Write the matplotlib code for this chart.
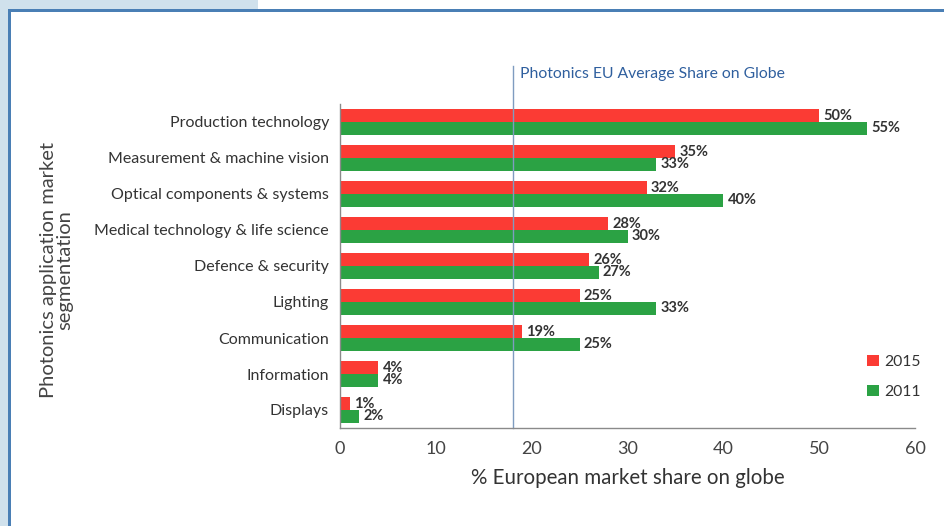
import matplotlib.pyplot as plt
import numpy as np
from matplotlib.patches import Rectangle

plt.rcParams['font.family'] = ['Lato', 'DejaVu Sans']

### --->>> DADOS
categorias = ['Production technology', 'Measurement & machine vision',
              'Optical components & systems', 'Medical technology & life science',
              'Defence & security', 'Lighting', 'Communication', 'Information', 'Displays']
share_2015 = [50, 35, 32, 28, 26, 25, 19, 4, 1]
share_2011 = [55, 33, 40, 30, 27, 33, 25, 4, 2]
media_eu = 18
xticks = [0, 10, 20, 30, 40, 50, 60]

red = '#fb3b34'
green = '#2ba244'
W, H = 944, 526

fig = plt.figure(figsize=(W / 100, H / 100), dpi=100)

# moldura azul
fig.add_artist(Rectangle((0, 0), 8 / W, 1, transform=fig.transFigure, color='#d0e1ec', lw=0))
fig.add_artist(Rectangle((0, 1 - 9 / H), 258 / W, 9 / H, transform=fig.transFigure, color='#d0e1ec', lw=0))
fig.add_artist(Rectangle((8 / W, 0), 2.5 / W, 1 - 9 / H, transform=fig.transFigure, color='#4a7fb5', lw=0))
fig.add_artist(Rectangle((8 / W, 1 - 11.5 / H), 1 - 8 / W, 2.5 / H, transform=fig.transFigure, color='#4a7fb5', lw=0))

ax = fig.add_axes([340 / W, 98 / H, 575 / W, 324 / H])

y = np.arange(len(categorias))[::-1]
h = 0.35
r1 = ax.barh(y + 0.18, share_2015, h, color=red, label='2015')
r2 = ax.barh(y - 0.18, share_2011, h, color=green, label='2011')

for rects in (r1, r2):
    for rect in rects:
        w = rect.get_width()
        ax.annotate(f'{w}%', xy=(w, rect.get_y() + rect.get_height() / 2),
                    xytext=(3, 0), textcoords='offset points',
                    ha='left', va='center', fontsize=10.5, fontweight='bold', color='#333333')

ax.set_xlim(0, 60)
ax.set_ylim(-0.5, 8.5)
ax.set_xticks(xticks)
ax.set_xticklabels([str(t) for t in xticks], fontsize=13, color='#444444')
ax.set_yticks(y)
ax.set_yticklabels(categorias, fontsize=11.5, color='#333333')
ax.tick_params(length=0, pad=8)
ax.tick_params(axis='x', pad=9)
for s in ('top', 'right'):
    ax.spines[s].set_visible(False)
for s in ('left', 'bottom'):
    ax.spines[s].set_color('#8a8a8a')
    ax.spines[s].set_linewidth(1)

# linha da media europeia
ax.axvline(media_eu, ymin=0, ymax=(428 - 66) / 324, color='#7f9cc0', lw=1, clip_on=False)
ax.text(media_eu + 0.75, 9.33, 'Photonics EU Average Share on Globe', fontsize=11.3,
        color='#2f5f9e', ha='left', va='center')

ax.set_xlabel('% European market share on globe', fontsize=14.8, color='#333333', labelpad=8)
fig.text(57 / W, 1 - 270 / H, 'Photonics application market\nsegmentation', rotation=90,
         ha='center', va='center', fontsize=14.5, color='#444444', linespacing=0.95)

ax.legend(loc='center left', bbox_to_anchor=(853 / W, 1 - 377 / H), bbox_transform=fig.transFigure,
          frameon=False, fontsize=11.3, handlelength=0.75, handleheight=0.75,
          handletextpad=0.35, labelspacing=1.0, labelcolor='#333333')

fig.savefig('out.png', dpi=100)
